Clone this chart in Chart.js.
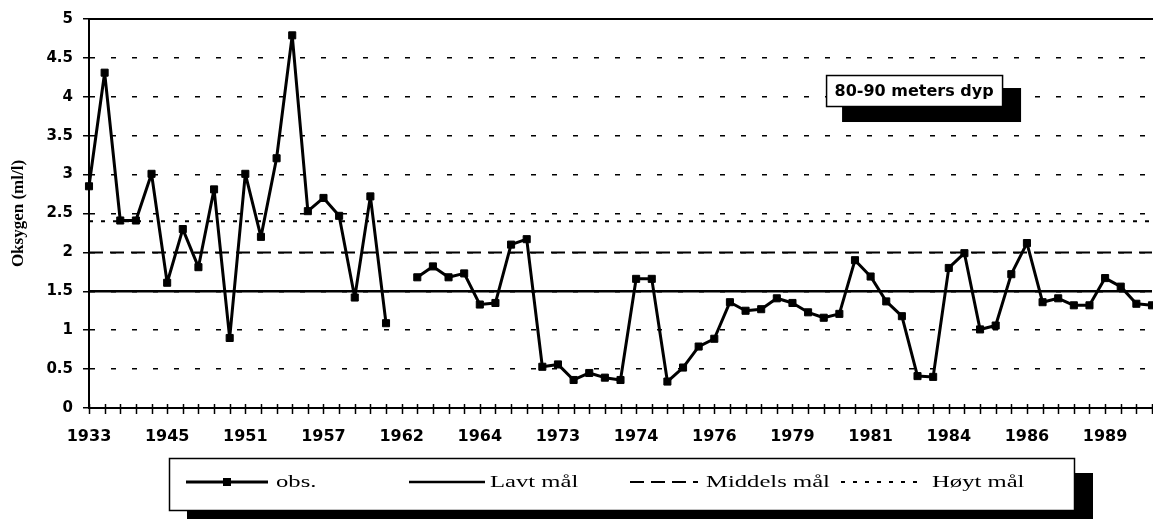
<!DOCTYPE html>
<html>
<head>
<meta charset="utf-8">
<script src="https://cdn.jsdelivr.net/npm/chart.js@4"></script>
<style>
  html, body { margin: 0; padding: 0; background: #fff; overflow: hidden; }
  #wrap { width: 1158px; height: 519px; }
</style>
</head>
<body>
<div id="wrap"><canvas id="chart"></canvas></div>
<script>
// tick labels, one for every 5th observation
const tickLabels = ['1933', '1945', '1951', '1957', '1962', '1964', '1973',
  '1974', '1976', '1979', '1981', '1984', '1986', '1989'];

// observed oxygen (ml/l), 80-90 m depth; null = no observation
const obs = [
  2.85, 4.31, 2.41, 2.41, 3.01, 1.61, 2.30, 1.81, 2.81, 0.90,
  3.01, 2.20, 3.21, 4.79, 2.53, 2.70, 2.47, 1.42, 2.72, 1.09,
  null, 1.68, 1.82, 1.68, 1.73, 1.33, 1.35, 2.10, 2.17, 0.53,
  0.56, 0.36, 0.45, 0.39, 0.36, 1.66, 1.66, 0.34, 0.52, 0.79,
  0.89, 1.36, 1.25, 1.27, 1.41, 1.35, 1.23, 1.16, 1.21, 1.90,
  1.69, 1.37, 1.18, 0.41, 0.40, 1.80, 1.99, 1.01, 1.06, 1.72,
  2.12, 1.36, 1.41, 1.32, 1.32, 1.67, 1.56, 1.34, 1.32
];

// target levels
const lavtMaal = 1.5;
const middelsMaal = 2.0;
const hoytMaal = 2.4;

const seriesNames = ['obs.', 'Lavt mål', 'Middels mål', 'Høyt mål'];
const yTitle = 'Oksygen (ml/l)';
const noteText = '80-90 meters dyp';

const labels = obs.map((v, i) => i % 5 === 0 ? tickLabels[i / 5] : '');
const flat = v => obs.map(() => v);

// draws axis crosses, top frame, the depth note and the boxed legend
const decor = {
  id: 'decor',
  afterDraw(chart) {
    const ctx = chart.ctx;
    const area = chart.chartArea;
    const xs = chart.scales.x;
    const ys = chart.scales.y;

    ctx.save();
    ctx.strokeStyle = '#000';
    ctx.lineWidth = 1.5;
    ctx.setLineDash([]);
    for (let i = 0; i < obs.length; i++) {
      const x = Math.round(xs.getPixelForValue(i)) + 0.5;
      ctx.beginPath();
      ctx.moveTo(x, area.bottom - 4);
      ctx.lineTo(x, area.bottom + 6);
      ctx.stroke();
    }
    ctx.lineWidth = 2;
    const yTop = ys.getPixelForValue(ys.max);
    ctx.beginPath();
    ctx.moveTo(area.left, yTop);
    ctx.lineTo(chart.width, yTop);
    ctx.stroke();

    // depth note with drop shadow
    const nx = xs.getPixelForValue(47.15), ny = ys.getPixelForValue(4.28);
    const nw = 176, nh = 31;
    ctx.fillStyle = '#000';
    ctx.fillRect(nx + 16, ny + 13, nw + 3, nh + 3);
    ctx.fillStyle = '#fff';
    ctx.fillRect(nx, ny, nw, nh);
    ctx.lineWidth = 1.5;
    ctx.strokeRect(nx + 0.5, ny + 0.5, nw, nh);
    ctx.fillStyle = '#000';
    ctx.font = 'bold 16px "DejaVu Sans"';
    ctx.textAlign = 'center';
    ctx.textBaseline = 'middle';
    ctx.fillText(noteText, nx + nw / 2, ny + nh / 2 + 1);

    // legend box with drop shadow
    const bx = 169, by = 458, bw = 905, bh = 52;
    ctx.fillStyle = '#000';
    ctx.fillRect(bx + 18, by + 15, bw + 1, bh + 10);
    ctx.fillStyle = '#fff';
    ctx.fillRect(bx, by, bw, bh);
    ctx.strokeStyle = '#000';
    ctx.lineWidth = 1.5;
    ctx.strokeRect(bx + 0.5, by + 0.5, bw, bh);

    const items = [
      {x0: 186, x1: 268, tx: 276},
      {x0: 409, x1: 485, tx: 490},
      {x0: 630, x1: 698, tx: 706},
      {x0: 841, x1: 923, tx: 932}
    ];
    const ly = by + 24;
    chart.data.datasets.forEach((ds, k) => {
      const it = items[k];
      ctx.strokeStyle = '#000';
      ctx.lineWidth = ds.borderWidth;
      ctx.setLineDash(ds.borderDash || []);
      ctx.beginPath();
      ctx.moveTo(it.x0, ly);
      ctx.lineTo(it.x1, ly);
      ctx.stroke();
      ctx.setLineDash([]);
      if (ds.pointRadius > 0) {
        ctx.fillStyle = '#000';
        ctx.fillRect((it.x0 + it.x1) / 2 - 4, ly - 4, 8, 8);
      }
      ctx.save();
      ctx.translate(it.tx, ly);
      ctx.scale(1.45, 1);
      ctx.fillStyle = '#000';
      ctx.font = '17px "Liberation Serif"';
      ctx.textAlign = 'left';
      ctx.textBaseline = 'middle';
      ctx.fillText(ds.label, 0, 1);
      ctx.restore();
    });
    ctx.restore();
  }
};

new Chart(document.getElementById('chart'), {
  type: 'line',
  data: {
    labels: labels,
    datasets: [{
      label: seriesNames[0],
      data: obs,
      borderColor: '#000',
      backgroundColor: '#000',
      borderWidth: 3,
      borderJoinStyle: 'round',
      pointStyle: 'rect',
      pointRadius: 5,
      pointBorderWidth: 1,
      spanGaps: false,
      order: 0
    }, {
      label: seriesNames[1],
      data: flat(lavtMaal),
      borderColor: '#000',
      borderWidth: 2.5,
      pointRadius: 0,
      order: 1
    }, {
      label: seriesNames[2],
      data: flat(middelsMaal),
      borderColor: '#000',
      borderWidth: 2,
      borderDash: [14, 7],
      pointRadius: 0,
      order: 2
    }, {
      label: seriesNames[3],
      data: flat(hoytMaal),
      borderColor: '#000',
      borderWidth: 2,
      borderDash: [4, 8],
      pointRadius: 0,
      order: 3
    }]
  },
  options: {
    responsive: true,
    maintainAspectRatio: false,
    animation: false,
    layout: { padding: { top: 18, right: 1, left: 0, bottom: 0 } },
    plugins: {
      legend: { display: false },
      tooltip: { enabled: false }
    },
    elements: { line: { tension: 0 } },
    scales: {
      x: {
        offset: false,
        grid: { display: false, drawTicks: true, tickLength: 19 },
        border: { display: true, color: '#000', width: 2 },
        ticks: {
          autoSkip: false,
          maxRotation: 0,
          padding: 0,
          color: '#000',
          font: { family: 'DejaVu Sans', size: 16, weight: 'bold' }
        },
        afterFit: s => { s.height = 111; }
      },
      y: {
        min: 0,
        max: 5,
        ticks: {
          stepSize: 0.5,
          padding: 10,
          color: '#000',
          callback: v => String(+v),
          font: { family: 'DejaVu Sans', size: 15, weight: 'bold' }
        },
        grid: {
          color: c => (c.tick.value === 0 || c.tick.value === 5) ? 'rgba(0,0,0,0)' : '#000',
          lineWidth: 1.5,
          drawTicks: true,
          tickLength: 6,
          tickColor: '#000',
          tickWidth: 1.5
        },
        border: { display: true, color: '#000', width: 2, dash: [5, 16] },
        title: {
          display: true,
          text: yTitle,
          color: '#000',
          padding: { top: 8, bottom: 0 },
          font: { family: 'Liberation Serif', size: 17, weight: 'bold' }
        },
        afterFit: s => { s.width = 89; }
      }
    }
  },
  plugins: [decor]
});
</script>
</body>
</html>
